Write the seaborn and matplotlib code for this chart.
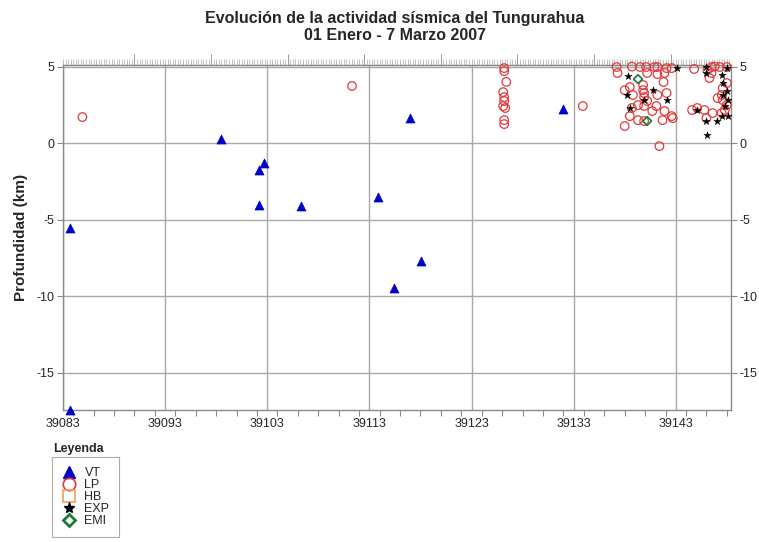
import numpy as np
import pandas as pd
import seaborn as sns
import matplotlib.pyplot as plt
from matplotlib.lines import Line2D
from matplotlib.ticker import MultipleLocator, FixedLocator

# --- data (fecha = dia serial, prof = km) ---
vt_fecha = [39083.7, 39083.7, 39098.5, 39102.2, 39102.7, 39102.2, 39106.3,
            39113.8, 39117.0, 39115.4, 39118.1, 39132.0]
vt_prof = [-5.55, -17.45, 0.26, -1.76, -1.31, -4.05, -4.12,
           -3.53, 1.63, -9.48, -7.71, 2.22]

lp_fecha = [39084.9, 39111.3, 39133.9,
            39126.2, 39126.2, 39126.4, 39126.1, 39126.2, 39126.2, 39126.1, 39126.3, 39126.2, 39126.2,
            39137.2, 39137.3, 39138.7, 39139.5, 39140.1, 39140.9, 39141.2, 39142.1, 39142.6,
            39140.2, 39141.2, 39141.9, 39141.8, 39138.0, 39138.5, 39139.8, 39139.8, 39139.9,
            39139.9, 39138.8, 39142.1, 39141.2, 39140.2, 39139.3, 39139.9, 39141.1, 39138.7,
            39141.9, 39142.6, 39138.5, 39139.3, 39140.7, 39141.7, 39139.9, 39138.0, 39142.7,
            39141.4,
            39144.8, 39146.1, 39146.5, 39146.8, 39147.3, 39148.0, 39146.5, 39146.3, 39148.0,
            39147.6, 39147.5, 39147.1, 39147.6, 39148.0, 39144.6, 39145.1, 39145.8, 39146.6,
            39147.5, 39146.0, 39147.8]
lp_prof = [1.70, 3.73, 2.42,
           4.90, 4.70, 4.00, 3.33, 3.00, 2.75, 2.42, 2.29, 1.50, 1.24,
           4.97, 4.58, 5.00, 4.97, 4.97, 4.97, 4.97, 4.90, 4.90,
           4.58, 4.51, 4.58, 3.99, 3.46, 3.66, 3.79, 3.46, 3.27,
           3.01, 3.14, 3.27, 3.14, 2.75, 2.48, 2.42, 2.42, 2.29,
           2.09, 1.76, 1.76, 1.50, 2.09, 1.50, 1.44, 1.11, 1.63,
           -0.20,
           4.84, 4.77, 4.97, 5.00, 4.97, 4.97, 4.58, 4.25, 3.92,
           3.59, 3.14, 2.94, 2.81, 2.48, 2.16, 2.29, 2.16, 1.96,
           1.96, 1.63, 2.16]

exp_fecha = [39138.3, 39138.2, 39140.8, 39142.1, 39139.9, 39138.5, 39143.1,
             39146.0, 39146.0, 39147.5, 39147.6, 39148.0, 39147.6, 39147.8, 39148.1,
             39145.1, 39147.5, 39147.0, 39146.0, 39148.1, 39146.1, 39148.0]
exp_prof = [4.38, 3.14, 3.46, 2.81, 2.81, 2.29, 4.90,
            4.97, 4.58, 4.44, 3.92, 3.40, 3.14, 2.42, 2.81,
            2.16, 1.76, 1.44, 1.44, 1.76, 0.52, 4.90]

emi_fecha = [39139.3, 39140.2]
emi_prof = [4.18, 1.44]

x_ticks = [39083, 39093, 39103, 39113, 39123, 39133, 39143]
y_ticks = [5, 0, -5, -10, -15]

def frame(fecha, prof):
    return pd.DataFrame({"fecha": fecha, "prof": prof})

sns.set_style("white")
plt.rcParams["font.family"] = ["Liberation Sans", "DejaVu Sans"]
plt.rcParams["axes.unicode_minus"] = False

fig = plt.figure(figsize=(7.59, 5.42), dpi=100)
ax = fig.add_axes([0.083, 0.2435, 0.88, 0.6365])

grid_c = "#a8a8a8"
ax.set_axisbelow(True)
ax.grid(True, color=grid_c, lw=1)

sns.scatterplot(data=frame(lp_fecha, lp_prof), x="fecha", y="prof", ax=ax,
                marker="o", s=38, facecolors="none", edgecolors="#e23a3a",
                linewidth=0.9, clip_on=False, zorder=3)
sns.scatterplot(data=frame(vt_fecha, vt_prof), x="fecha", y="prof", ax=ax,
                marker="^", s=42, color="#0000c8", edgecolor="#0000c8",
                linewidth=0.5, clip_on=False, zorder=4)
sns.scatterplot(data=frame(exp_fecha, exp_prof), x="fecha", y="prof", ax=ax,
                marker="*", s=30, color="black", edgecolor="black",
                linewidth=0.3, clip_on=False, zorder=5)
sns.scatterplot(data=frame(emi_fecha, emi_prof), x="fecha", y="prof", ax=ax,
                marker="D", s=20, facecolors="none", edgecolors="#1e7a3a",
                linewidth=1.2, clip_on=False, zorder=5)

ax.set_xlim(39083, 39148.4)
ax.set_ylim(-17.45, 5.1)
ax.xaxis.set_major_locator(FixedLocator(x_ticks))
ax.xaxis.set_minor_locator(MultipleLocator(2))
ax.yaxis.set_major_locator(FixedLocator(y_ticks))
ax.set_xticklabels([str(t) for t in x_ticks])
ax.tick_params(axis="both", which="major", labelsize=9, color="#888888",
               direction="out", length=4, width=0.8, pad=2)
ax.tick_params(axis="x", which="minor", color="#888888", direction="out",
               length=4, width=0.8, bottom=True)
ax.tick_params(axis="y", right=True, labelright=True, left=True, labelleft=True)
ax.set_xlabel("")
ax.set_ylabel("Profundidad (km)", fontsize=11, fontweight="bold", labelpad=6)

for s in ax.spines.values():
    s.set_color("#8a8a8a")
    s.set_linewidth(1)

# dense ticks on the top edge
top = ax.secondary_xaxis("top")
top.xaxis.set_major_locator(MultipleLocator(7.5))
top.xaxis.set_minor_locator(MultipleLocator(0.25))
top.tick_params(which="major", length=8, color="#999999", labeltop=False, width=0.7)
top.tick_params(which="minor", length=4, color="#aaaaaa", width=0.5)
top.spines["top"].set_color("#8a8a8a")

fig.text(0.52, 0.95, "Evolución de la actividad sísmica del Tungurahua\n01 Enero - 7 Marzo 2007",
         ha="center", va="center", fontsize=11.5, fontweight="bold", linespacing=1.15)

handles = [
    Line2D([], [], marker="^", ls="", color="#0000c8", markersize=8),
    Line2D([], [], marker="o", ls="", markerfacecolor="none", markeredgecolor="#e23a3a",
           markersize=9, markeredgewidth=1.2),
    Line2D([], [], marker="s", ls="", markerfacecolor="none", markeredgecolor="#f0a060",
           markersize=9, markeredgewidth=1.2),
    Line2D([], [], marker="*", ls="", color="black", markersize=8),
    Line2D([], [], marker="D", ls="", markerfacecolor="none", markeredgecolor="#1e7a3a",
           markersize=6, markeredgewidth=2),
]
fig.text(0.103, 0.171, "Leyenda", ha="center", va="center", fontsize=9, fontweight="bold")
leg = fig.legend(handles, ["VT", "LP", "HB", "EXP", "EMI"], loc="upper left",
                 bbox_to_anchor=(0.0685, 0.156), fontsize=9, frameon=True,
                 fancybox=False, edgecolor="#999999", labelspacing=0.0,
                 handletextpad=0.6, handlelength=1.2, borderpad=0.8,
                 borderaxespad=0)
leg.get_frame().set_linewidth(0.8)

fig.savefig("out.png", dpi=100)
